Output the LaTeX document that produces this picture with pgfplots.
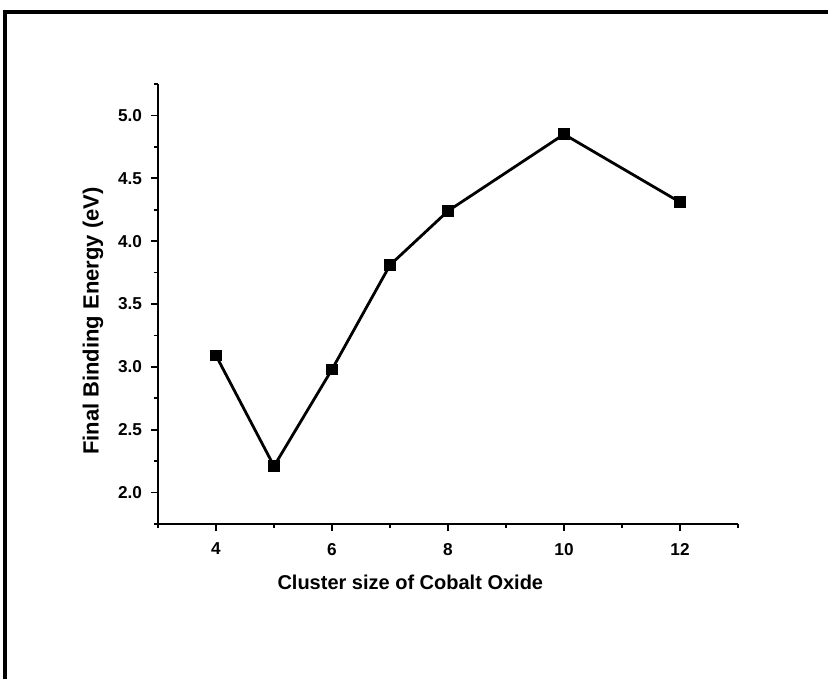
\documentclass[border=0pt]{standalone}
\usepackage{pgfplots}
\pgfplotsset{compat=1.18}
\usepackage{fontspec}
\setmainfont{Liberation Sans}
\begin{document}
\begin{tikzpicture}
\useasboundingbox (0pt,0pt) rectangle (414pt,339.5pt);
\draw[line width=2pt] (2.5pt,0pt) -- (2.5pt,333.5pt) -- (414pt,333.5pt);
\begin{axis}[
  at={(79pt,77.5pt)}, anchor=south west,
  scale only axis, width=290pt, height=220pt,
  xmin=3, xmax=13, ymin=1.75, ymax=5.25,
  axis x line*=bottom, axis y line*=left,
  axis line style={line width=1pt, -},
  xtick={4,6,8,10,12}, minor xtick={3,5,7,9,11,13},
  ytick={2.0,2.5,3.0,3.5,4.0,4.5,5.0},
  minor ytick={1.75,2.25,2.75,3.25,3.75,4.25,4.75,5.25},
  tick align=outside, major tick length=3.5pt, minor tick length=2pt,
  every tick/.style={black, line width=0.8pt},
  every minor tick/.style={black, line width=0.8pt},
  /pgf/number format/assume math mode=true,
  yticklabel style={/pgf/number format/fixed, /pgf/number format/fixed zerofill, /pgf/number format/precision=1, xshift=-1pt},
  ticklabel style={font=\fontsize{8.6}{10}\selectfont\bfseries},
  xticklabel style={yshift=-2.5pt},
  xlabel={Cluster size of Cobalt Oxide},
  ylabel={Final Binding Energy (eV)},
  xlabel style={font=\fontsize{10}{12}\selectfont\bfseries, at={(axis description cs:0.435,-0.132)}, anchor=center},
  ylabel style={font=\fontsize{11}{13}\selectfont\bfseries, at={(axis description cs:-0.112,0.461)}, anchor=center},
  clip=false,
]
\addplot[black, line width=1.4pt, mark=square*, mark size=2.2pt, mark options={solid}]
coordinates {(4,3.09) (5,2.21) (6,2.98) (7,3.81) (8,4.24) (10,4.85) (12,4.31)};
\end{axis}
\end{tikzpicture}
\end{document}
